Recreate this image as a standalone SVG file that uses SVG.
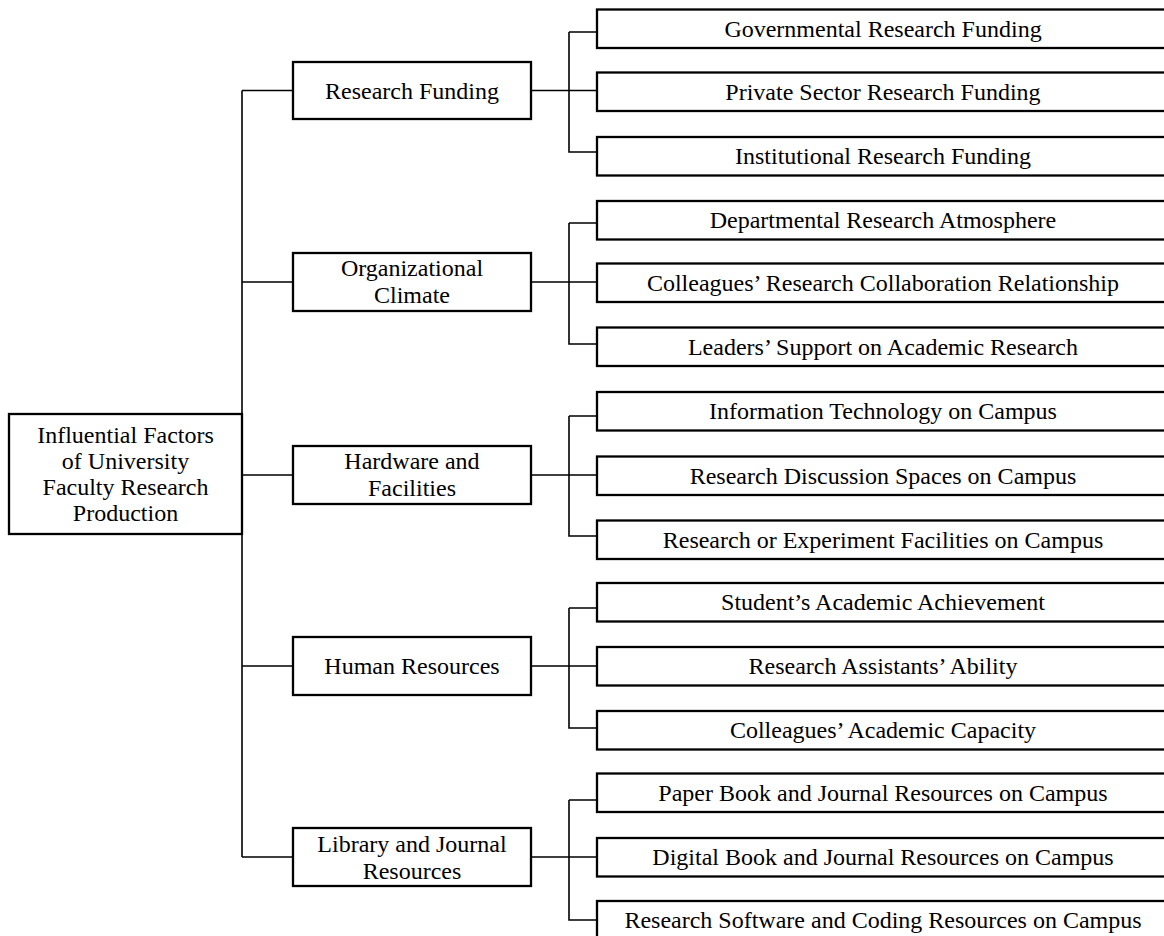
<svg xmlns="http://www.w3.org/2000/svg" width="1164" height="936" viewBox="0 0 1164 936">
<style>
  .box { fill: #ffffff; stroke: #000000; stroke-width: 2.3; }
  .conn { fill: none; stroke: #000000; stroke-width: 1.6; }
  text { font-family: "Liberation Serif", "Times New Roman", serif; font-size: 24px; fill: #000000; text-anchor: middle; }
</style>
<rect x="0" y="0" width="1164" height="936" fill="#ffffff"/>
<g id="connectors">
  <path class="conn" d="M242,90.5 V857"/>
  <path class="conn" d="M242,90.5 H293 M242,282 H293 M242,475 H293 M242,666 H293 M242,857 H293"/>
  <path class="conn" d="M531,90.5 H597 M569,32 V152 H597 M569,32 H597"/>
  <path class="conn" d="M531,282 H597 M569,223 V344 H597 M569,223 H597"/>
  <path class="conn" d="M531,475 H597 M569,416 V536 H597 M569,416 H597"/>
  <path class="conn" d="M531,666 H597 M569,608 V728 H597 M569,608 H597"/>
  <path class="conn" d="M531,857 H597 M569,800 V920 H597 M569,800 H597"/>
</g>
<g id="root">
  <rect class="box" x="9" y="414" width="233" height="120"/>
  <text x="125.5" y="443">Influential Factors</text>
  <text x="125.5" y="469">of University</text>
  <text x="125.5" y="495">Faculty Research</text>
  <text x="125.5" y="521">Production</text>
</g>
<g id="research-funding">
  <rect class="box" x="293" y="62" width="238" height="57"/>
  <text x="412" y="99">Research Funding</text>
</g>
<g id="organizational-climate">
  <rect class="box" x="293" y="253" width="238" height="58"/>
  <text x="412" y="276">Organizational</text>
  <text x="412" y="303">Climate</text>
</g>
<g id="hardware-facilities">
  <rect class="box" x="293" y="446" width="238" height="58"/>
  <text x="412" y="469">Hardware and</text>
  <text x="412" y="496">Facilities</text>
</g>
<g id="human-resources">
  <rect class="box" x="293" y="637" width="238" height="58"/>
  <text x="412" y="674">Human Resources</text>
</g>
<g id="library-journal">
  <rect class="box" x="293" y="828" width="238" height="58"/>
  <text x="412" y="851.5">Library and Journal</text>
  <text x="412" y="878.5">Resources</text>
</g>
<g id="leaf-governmental">
  <rect class="box" x="597" y="9.5" width="580" height="38.5"/>
  <text x="883" y="36.5">Governmental Research Funding</text>
</g>
<g id="leaf-private">
  <rect class="box" x="597" y="72.5" width="580" height="38.5"/>
  <text x="883" y="99.5">Private Sector Research Funding</text>
</g>
<g id="leaf-institutional">
  <rect class="box" x="597" y="137" width="580" height="38.5"/>
  <text x="883" y="164">Institutional Research Funding</text>
</g>
<g id="leaf-departmental">
  <rect class="box" x="597" y="201" width="580" height="38.5"/>
  <text x="883" y="228">Departmental Research Atmosphere</text>
</g>
<g id="leaf-colleagues-collab">
  <rect class="box" x="597" y="263.5" width="580" height="38.5"/>
  <text x="883" y="290.5">Colleagues’ Research Collaboration Relationship</text>
</g>
<g id="leaf-leaders">
  <rect class="box" x="597" y="327.5" width="580" height="38.5"/>
  <text x="883" y="354.5">Leaders’ Support on Academic Research</text>
</g>
<g id="leaf-it">
  <rect class="box" x="597" y="392" width="580" height="38.5"/>
  <text x="883" y="419">Information Technology on Campus</text>
</g>
<g id="leaf-discussion">
  <rect class="box" x="597" y="456.5" width="580" height="38.5"/>
  <text x="883" y="483.5">Research Discussion Spaces on Campus</text>
</g>
<g id="leaf-facilities">
  <rect class="box" x="597" y="520.5" width="580" height="38.5"/>
  <text x="883" y="547.5">Research or Experiment Facilities on Campus</text>
</g>
<g id="leaf-student">
  <rect class="box" x="597" y="583" width="580" height="38.5"/>
  <text x="883" y="610">Student’s Academic Achievement</text>
</g>
<g id="leaf-assistants">
  <rect class="box" x="597" y="647" width="580" height="38.5"/>
  <text x="883" y="674">Research Assistants’ Ability</text>
</g>
<g id="leaf-colleagues-capacity">
  <rect class="box" x="597" y="711" width="580" height="38.5"/>
  <text x="883" y="738">Colleagues’ Academic Capacity</text>
</g>
<g id="leaf-paper">
  <rect class="box" x="597" y="773.5" width="580" height="38.5"/>
  <text x="883" y="800.5">Paper Book and Journal Resources on Campus</text>
</g>
<g id="leaf-digital">
  <rect class="box" x="597" y="838" width="580" height="38.5"/>
  <text x="883" y="865">Digital Book and Journal Resources on Campus</text>
</g>
<g id="leaf-software">
  <rect class="box" x="597" y="901" width="580" height="60"/>
  <text x="883" y="928">Research Software and Coding Resources on Campus</text>
</g>
</svg>
